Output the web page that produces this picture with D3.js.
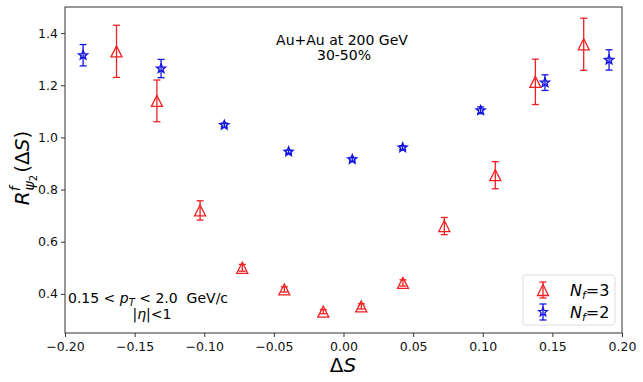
<!DOCTYPE html>
<html><head><meta charset="utf-8">
<script src="https://cdn.jsdelivr.net/npm/d3@7"></script>
<style>
body{margin:0;background:#fff;}
text{font-family:"DejaVu Sans",sans-serif;}
</style></head>
<body><svg id="c" width="643" height="382"></svg>
<script>
const nf3X = [-0.163, -0.134, -0.103, -0.0727, -0.0425, -0.0145, 0.0128, 0.0427, 0.0724, 0.109, 0.1378, 0.1725];
const nf3Y = [1.33, 1.14, 0.72, 0.50, 0.417, 0.332, 0.352, 0.442, 0.66, 0.855, 1.213, 1.357];
const nf3Err = [0.10, 0.08, 0.037, 0.013, 0.01, 0.008, 0.01, 0.012, 0.033, 0.052, 0.087, 0.10];
const nf2X = [-0.187, -0.131, -0.0856, -0.0394, 0.0063, 0.0425, 0.0985, 0.1447, 0.1907];
const nf2Y = [1.315, 1.264, 1.047, 0.945, 0.916, 0.961, 1.104, 1.21, 1.297];
const nf2Err = [0.041, 0.035, 0.008, 0.006, 0.007, 0.007, 0.013, 0.03, 0.039];
const xTicks = [-0.20, -0.15, -0.10, -0.05, 0.00, 0.05, 0.10, 0.15, 0.20];
const yTicks = [0.4, 0.6, 0.8, 1.0, 1.2, 1.4];

const svg = d3.select("#c");
const L = 65, R = 622, T = 7, B = 333;
const x = d3.scaleLinear().domain([-0.2, 0.2]).range([L, R]);
const y = d3.scaleLinear().domain([0.25, 1.5]).range([B, T]);
const fmtX = v => d3.format(".2f")(v).replace("-", "\u2212");
const fmtY = v => d3.format(".1f")(v);

const xa = svg.append("g").attr("transform", `translate(0,${B})`)
  .call(d3.axisBottom(x).tickValues(xTicks).tickFormat(fmtX).tickSizeOuter(0).tickSize(4));
const ya = svg.append("g").attr("transform", `translate(${L},0)`)
  .call(d3.axisLeft(y).tickValues(yTicks).tickFormat(fmtY).tickSizeOuter(0).tickSize(4));
[xa, ya].forEach(a => {
  a.select(".domain").remove();
  a.selectAll("line").attr("stroke", "#333");
  a.selectAll("text").attr("font-size", 12.5).attr("fill", "#111").attr("font-family", "DejaVu Sans");
});
xa.selectAll("text").attr("dy", "0.9em");
svg.append("rect").attr("x", L).attr("y", T).attr("width", R - L).attr("height", B - T)
  .attr("fill", "none").attr("stroke", "#333").attr("stroke-width", 1);

function errs(X, Y, E, color, cap) {
  const g = svg.append("g").attr("stroke", color).attr("stroke-width", 1.3);
  X.forEach((xv, i) => {
    const px = x(xv), y1 = y(Y[i] + E[i]), y0 = y(Y[i] - E[i]);
    g.append("line").attr("x1", px).attr("x2", px).attr("y1", y1).attr("y2", y0);
    g.append("line").attr("x1", px - cap).attr("x2", px + cap).attr("y1", y1).attr("y2", y1);
    g.append("line").attr("x1", px - cap).attr("x2", px + cap).attr("y1", y0).attr("y2", y0);
  });
}
const tri = r => `M0,${-r}L${-r},${r}L${r},${r}Z`;
function star(ro, ri) {
  let p = [];
  for (let k = 0; k < 10; k++) {
    const r = k % 2 ? ri : ro, a = -Math.PI / 2 + k * Math.PI / 5;
    p.push([r * Math.cos(a), r * Math.sin(a)]);
  }
  return "M" + p.map(q => q[0].toFixed(2) + "," + q[1].toFixed(2)).join("L") + "Z";
}
errs(nf3X, nf3Y, nf3Err, "#f02020", 3.5);
svg.append("g").selectAll("path").data(nf3X).join("path")
  .attr("d", tri(5.5)).attr("transform", (d, i) => `translate(${x(d)},${y(nf3Y[i])})`)
  .attr("fill", "none").attr("stroke", "#f02020").attr("stroke-width", 1.3);
errs(nf2X, nf2Y, nf2Err, "#1515e0", 3.5);
svg.append("g").selectAll("path").data(nf2X).join("path")
  .attr("d", star(4.6, 2.0)).attr("transform", (d, i) => `translate(${x(d)},${y(nf2Y[i])})`)
  .attr("fill", "none").attr("stroke", "#1515e0").attr("stroke-width", 1.5);

// annotations
svg.append("text").attr("x", 342).attr("y", 45).attr("text-anchor", "middle").attr("font-size", 14).text("Au+Au at 200 GeV");
svg.append("text").attr("x", 344).attr("y", 60).attr("text-anchor", "middle").attr("font-size", 14).text("30-50%");
const pt = svg.append("text").attr("x", 68).attr("y", 303).attr("font-size", 14);
pt.append("tspan").text("0.15 < ");
pt.append("tspan").attr("font-style", "italic").text("p");
pt.append("tspan").attr("font-style", "italic").attr("font-size", 10).attr("dy", 3).text("T");
pt.append("tspan").attr("dy", -3).text("\u00a0< 2.0 \u00a0GeV/c");
const eta = svg.append("text").attr("x", 152).attr("y", 319).attr("text-anchor", "middle").attr("font-size", 14);
eta.append("tspan").text("|");
eta.append("tspan").attr("font-style", "italic").text("η");
eta.append("tspan").text("|<1");

// axis labels
const xl = svg.append("text").attr("x", 343).attr("y", 372).attr("text-anchor", "middle").attr("font-size", 20);
xl.append("tspan").text("Δ");
xl.append("tspan").attr("font-style", "italic").text("S");
const yl = svg.append("text").attr("transform", "translate(29,168) rotate(-90)").attr("text-anchor", "middle").attr("font-size", 20);
yl.append("tspan").attr("font-style", "italic").text("R");
yl.append("tspan").attr("font-style", "italic").attr("font-size", 14).attr("dy", -9).text("f");
yl.append("tspan").attr("font-style", "italic").attr("font-size", 14).attr("dx", -4).attr("dy", 14).text("ψ");
yl.append("tspan").attr("font-size", 10).attr("dy", 3).text("2");
yl.append("tspan").attr("dy", -8).attr("dx", 2).text("(Δ");
yl.append("tspan").attr("font-style", "italic").text("S");
yl.append("tspan").text(")");

// legend
const lg = svg.append("g");
lg.append("rect").attr("x", 523).attr("y", 275).attr("width", 92).attr("height", 50).attr("rx", 3)
  .attr("fill", "#fff").attr("fill-opacity", 0.8).attr("stroke", "#ddd");
const items = [["3", "#f02020", tri(5.5), 290], ["2", "#1515e0", star(4.6, 2.0), 312]];
items.forEach(([n, c, d, yy]) => {
  const gi = lg.append("g").attr("stroke", c).attr("stroke-width", 1.3);
  gi.append("line").attr("x1", 543).attr("x2", 543).attr("y1", yy - 8).attr("y2", yy + 8);
  gi.append("line").attr("x1", 539.5).attr("x2", 546.5).attr("y1", yy - 8).attr("y2", yy - 8);
  gi.append("line").attr("x1", 539.5).attr("x2", 546.5).attr("y1", yy + 8).attr("y2", yy + 8);
  gi.append("path").attr("d", d).attr("transform", `translate(543,${yy})`).attr("fill", "none");
  const t = lg.append("text").attr("x", 570).attr("y", yy + 6).attr("font-size", 16);
  t.append("tspan").attr("font-style", "italic").text("N");
  t.append("tspan").attr("font-style", "italic").attr("font-size", 11).attr("dy", 3).text("f");
  t.append("tspan").attr("dy", -3).text("=" + n);
});
</script></body></html>
